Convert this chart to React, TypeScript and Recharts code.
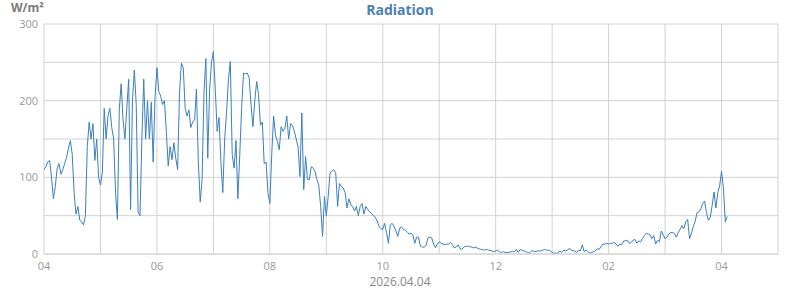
import { LineChart, Line, XAxis, YAxis, CartesianGrid } from 'recharts'

document.body.style.margin = '0'

// radiation in W/m², one value every 2 minutes, starting 04:00
const h04 = [110, 114, 120, 122, 100, 72, 88, 112, 118, 104, 110, 118, 126, 138, 148, 130, 80, 52, 62, 44, 42, 38, 50, 140, 172, 150, 170, 122, 150, 100]
const h05 = [90, 106, 190, 150, 180, 190, 165, 150, 80, 45, 188, 222, 175, 150, 190, 228, 58, 200, 240, 195, 55, 50, 150, 228, 150, 200, 150, 198, 120, 205]
const h06 = [243, 212, 206, 195, 200, 160, 115, 140, 123, 145, 125, 110, 210, 249, 243, 190, 180, 188, 165, 172, 175, 215, 120, 68, 97, 210, 255, 125, 215, 250]
const h07 = [264, 215, 160, 178, 120, 80, 150, 185, 228, 251, 130, 112, 148, 72, 128, 190, 236, 235, 236, 230, 195, 166, 200, 225, 208, 168, 172, 118, 120, 80]
const h08 = [66, 130, 180, 155, 147, 136, 166, 160, 164, 180, 150, 170, 168, 160, 150, 140, 101, 184, 84, 127, 97, 97, 114, 112, 108, 97, 90, 62, 23, 75]
const h09 = [50, 75, 106, 108, 110, 106, 62, 92, 88, 86, 80, 60, 72, 64, 62, 56, 62, 50, 62, 66, 52, 62, 58, 55, 53, 50, 48, 43, 36, 33]
const h10 = [32, 40, 28, 14, 38, 40, 36, 30, 23, 34, 35, 32, 31, 29, 26, 27, 25, 14, 22, 22, 10, 9, 9, 11, 21, 22, 21, 13, 8, 13]
const h11 = [16, 14, 13, 12, 13, 13, 15, 12, 8, 9, 12, 7, 6, 9, 10, 10, 10, 9, 8, 9, 8, 7, 6, 6, 5, 6, 5, 5, 4, 3]
const h12 = [4, 5, 3, 2, 3, 2, 2, 2, 3, 3, 3, 6, 2, 6, 5, 4, 3, 2, 1, 4, 4, 3, 4, 4, 4, 5, 6, 5, 5, 4]
const h13 = [2, 1, 1, 1, 4, 2, 5, 4, 5, 7, 6, 4, 4, 2, 5, 4, 12, 3, 5, 3, 1, 2, 3, 4, 7, 6, 10, 13, 13, 14]
const h14 = [13, 14, 14, 15, 13, 10, 13, 12, 17, 17, 18, 14, 15, 18, 19, 14, 17, 16, 20, 24, 27, 26, 25, 20, 24, 13, 18, 16, 30, 25]
const h15 = [20, 22, 26, 28, 28, 27, 22, 28, 32, 37, 33, 42, 45, 20, 27, 36, 43, 54, 55, 59, 66, 69, 54, 44, 48, 63, 81, 60, 80, 89]
const h16 = [108, 86, 42, 49]

// minutes after 04:00
const xTicks = [0, 60, 120, 180, 240, 300, 360, 420, 480, 540, 600, 660, 720, 780]
const xLabels = ['04', '', '06', '', '08', '', '10', '', '12', '', '02', '', '04', '']
const yTicks = [0, 50, 100, 150, 200, 250, 300]
const yLabels = ['0', '', '100', '', '200', '', '300']

const data = [h04, h05, h06, h07, h08, h09, h10, h11, h12, h13, h14, h15, h16]
  .flat()
  .map((w, i) => ({ t: i * 2, w }))

export default function App() {
  return (
    <div
      style={{
        position: 'relative',
        width: 800,
        height: 290,
        fontFamily: '"Open Sans", sans-serif',
      }}
    >
      <div
        style={{
          position: 'absolute',
          top: 0,
          left: 0,
          width: 800,
          textAlign: 'center',
          fontSize: 14,
          lineHeight: '20px',
          fontWeight: 700,
          color: '#4b80b6',
        }}
      >
        Radiation
      </div>
      <div
        style={{
          position: 'absolute',
          top: 1,
          left: 11,
          fontSize: 12,
          lineHeight: '14px',
          fontWeight: 700,
          color: '#7a7a7a',
        }}
      >
        W/m²
      </div>
      <LineChart
        width={800}
        height={290}
        data={data}
        margin={{ top: 24, right: 22, bottom: 6, left: 0 }}
      >
        <CartesianGrid stroke="#d2d2d2" />
        <XAxis
          dataKey="t"
          type="number"
          domain={[0, 780]}
          ticks={xTicks}
          interval={0}
          tickFormatter={(v) => xLabels[xTicks.indexOf(v)]}
          tickLine={false}
          axisLine={{ stroke: '#d2d2d2' }}
          tickSize={0}
          tickMargin={8}
          height={30}
          tick={{ fontSize: 11, fill: '#999' }}
        />
        <YAxis
          type="number"
          domain={[0, 300]}
          ticks={yTicks}
          interval={0}
          tickFormatter={(v) => yLabels[yTicks.indexOf(v)]}
          tickLine={false}
          axisLine={false}
          tickSize={0}
          tickMargin={6}
          width={44}
          tick={{ fontSize: 11, fill: '#999' }}
        />
        <Line
          type="linear"
          dataKey="w"
          stroke="#3b7fbf"
          strokeWidth={1}
          dot={false}
          isAnimationActive={false}
        />
      </LineChart>
      <div
        style={{
          position: 'absolute',
          top: 274,
          left: 0,
          width: 800,
          textAlign: 'center',
          fontSize: 12,
          lineHeight: '16px',
          color: '#888',
        }}
      >
        2026.04.04
      </div>
    </div>
  )
}
